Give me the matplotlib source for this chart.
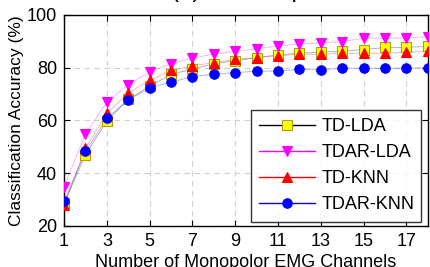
import numpy as np
import matplotlib
matplotlib.use("Agg")
import matplotlib.pyplot as plt

plt.rcParams['font.family'] = ['Liberation Sans', 'DejaVu Sans']

channels = list(range(1, 19))
td_lda = [28.5, 47.0, 59.8, 68.0, 73.0, 77.5, 79.4, 81.5, 82.6, 83.8, 84.9, 85.5, 85.8, 86.4, 86.8, 87.7, 87.7, 88.1]
tdar_lda = [34.9, 54.8, 66.9, 73.6, 78.3, 81.5, 83.6, 85.2, 86.2, 87.1, 88.3, 89.0, 89.4, 89.9, 91.2, 91.2, 91.2, 91.8]
td_knn = [27.8, 49.5, 62.7, 70.4, 75.2, 79.0, 80.7, 81.9, 83.2, 83.8, 84.5, 85.1, 85.1, 85.5, 85.5, 85.5, 85.8, 86.2]
tdar_knn = [29.3, 48.3, 60.8, 67.8, 72.2, 74.6, 76.6, 77.6, 78.1, 78.7, 78.7, 79.4, 79.2, 79.8, 79.8, 79.8, 79.8, 80.0]

series = [
    ("TD-LDA", td_lda, "black", "s", "yellow", "#b0a000"),
    ("TDAR-LDA", tdar_lda, "magenta", "v", "magenta", "magenta"),
    ("TD-KNN", td_knn, "red", "^", "red", "red"),
    ("TDAR-KNN", tdar_knn, "blue", "o", "blue", "blue"),
]

fig = plt.figure(figsize=(4.3, 2.67), dpi=100)
ax = fig.add_axes([0.149, 0.154, 0.846, 0.79])

handles = []
for name, vals, lc, mk, fc, ec in series:
    ax.plot(channels, vals, color=lc, lw=0.6, alpha=0.35, zorder=2)
    ax.plot(channels, vals, ls='none', marker=mk, ms=6.8, mfc=fc, mec=ec, mew=0.8, zorder=3)
    h, = ax.plot([], [], color=lc, lw=1.0, marker=mk, ms=6.8, mfc=fc, mec=ec, mew=0.8)
    h.set_label(name)
    handles.append(h)

ax.set_xlim(1, 18)
ax.set_ylim(20, 100)
ax.set_xticks(range(1, 18, 2))
ax.set_yticks([20, 40, 60, 80, 100])
ax.grid(True, ls=(0, (5, 4)), color='#d0d0d0', lw=0.8)
ax.set_axisbelow(True)
ax.tick_params(direction='in', top=True, right=True, labelsize=13, length=4, pad=5)
for s in ax.spines.values():
    s.set_linewidth(1.0)

ax.set_xlabel("Number of Monopolor EMG Channels", fontsize=13, labelpad=3)
ax.set_ylabel("Classification Accuracy (%)", fontsize=12.5, labelpad=2)

leg = ax.legend(handles=handles, loc='lower left', bbox_to_anchor=(0.514, 0.02, 0.467, 0.53),
                mode='expand', fontsize=13, handlelength=3.1, frameon=True, fancybox=False,
                edgecolor='black', borderpad=0.46, labelspacing=0.5, handletextpad=0.35,
                borderaxespad=0)
leg.get_frame().set_linewidth(1.0)

# title sits mostly above the figure edge, only its descenders show
fig.text(171 / 430, 1 + 3 / 267, "(a) TD comparison", fontsize=17.5, ha='left', va='baseline')

fig.savefig("out.png", dpi=100)
